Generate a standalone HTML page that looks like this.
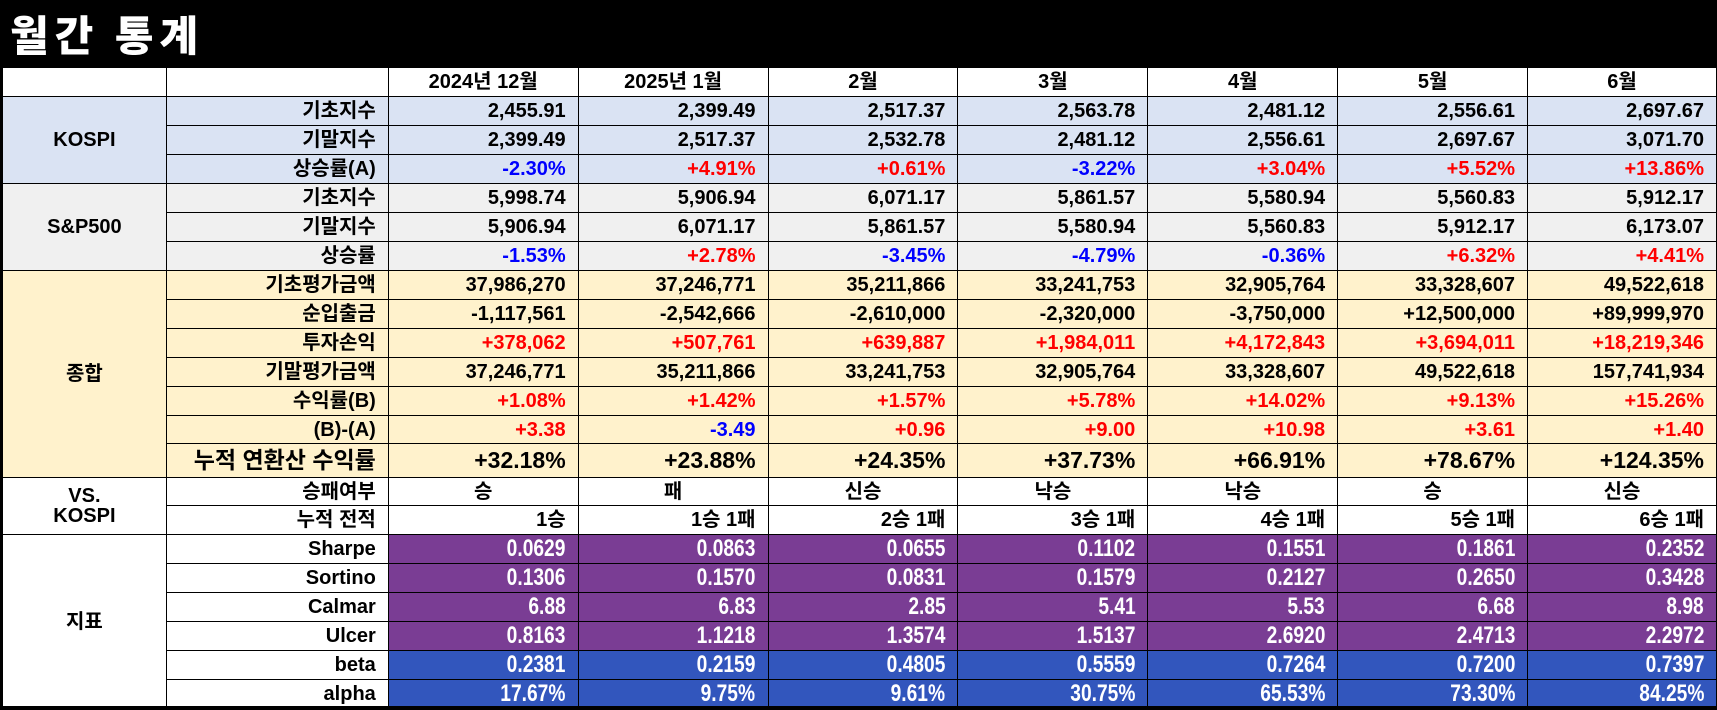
<!DOCTYPE html>
<html><head><meta charset="utf-8">
<style>
html,body{margin:0;padding:0;background:#fff;width:1717px;height:710px;overflow:hidden}
body{font-family:"Liberation Sans","Noto Sans CJK KR",sans-serif;}
#title{position:absolute;left:0;top:0;width:1717px;height:67px;background:#000;color:#fff;font-family:"Noto Sans CJK KR",sans-serif;font-weight:900;font-size:42px;line-height:67px;padding-left:10px;box-sizing:border-box;letter-spacing:6px}
table{position:absolute;left:2px;top:67px;border-collapse:collapse;table-layout:fixed;font-family:"Liberation Sans","Noto Sans CJK KR",sans-serif;font-weight:bold;font-size:20px}
td{border:1px solid #000;padding:0 12px 0 4px;white-space:nowrap;overflow:hidden;text-align:right;line-height:1}
td.c{text-align:center;padding:0}
td.lab{padding-right:12px}
.k{background:#dae3f3}.s{background:#f0f0f0}.t{background:#fff2cc}
.p{background:#7a3d94;color:#fff}.b{background:#3256bd;color:#fff}
.m span{display:inline-block;transform:scaleX(0.8);transform-origin:right center;font-size:24px;font-weight:bold}
.red{color:#ff0000}.blue{color:#0000ff}
.big{font-size:23px}
#bottom{position:absolute;left:0;top:706px;width:1717px;height:4px;background:#000}
#lb{position:absolute;left:0;top:67px;width:2px;height:643px;background:#000}
</style></head><body>
<div id="title">월간 통계</div>
<div id="lb"></div>
<table id="tbl">
<colgroup><col style="width:164px"><col style="width:222px"><col style="width:190px"><col style="width:190px"><col style="width:190px"><col style="width:190px"><col style="width:190px"><col style="width:190px"><col style="width:189px"></colgroup>
<tbody id="tb"></tbody></table>
<div id="bottom"></div>
<script>
const months=["2024년 12월","2025년 1월","2월","3월","4월","5월","6월"];
const kospiStart=["2,455.91","2,399.49","2,517.37","2,563.78","2,481.12","2,556.61","2,697.67"];
const kospiEnd=["2,399.49","2,517.37","2,532.78","2,481.12","2,556.61","2,697.67","3,071.70"];
const kospiRet=["-2.30%","+4.91%","+0.61%","-3.22%","+3.04%","+5.52%","+13.86%"];
const spStart=["5,998.74","5,906.94","6,071.17","5,861.57","5,580.94","5,560.83","5,912.17"];
const spEnd=["5,906.94","6,071.17","5,861.57","5,580.94","5,560.83","5,912.17","6,173.07"];
const spRet=["-1.53%","+2.78%","-3.45%","-4.79%","-0.36%","+6.32%","+4.41%"];
const startVal=["37,986,270","37,246,771","35,211,866","33,241,753","32,905,764","33,328,607","49,522,618"];
const netFlow=["-1,117,561","-2,542,666","-2,610,000","-2,320,000","-3,750,000","+12,500,000","+89,999,970"];
const pnl=["+378,062","+507,761","+639,887","+1,984,011","+4,172,843","+3,694,011","+18,219,346"];
const endVal=["37,246,771","35,211,866","33,241,753","32,905,764","33,328,607","49,522,618","157,741,934"];
const retB=["+1.08%","+1.42%","+1.57%","+5.78%","+14.02%","+9.13%","+15.26%"];
const diffBA=["+3.38","-3.49","+0.96","+9.00","+10.98","+3.61","+1.40"];
const cumAnn=["+32.18%","+23.88%","+24.35%","+37.73%","+66.91%","+78.67%","+124.35%"];
const winLose=["승","패","신승","낙승","낙승","승","신승"];
const record=["1승","1승 1패","2승 1패","3승 1패","4승 1패","5승 1패","6승 1패"];
const sharpe=["0.0629","0.0863","0.0655","0.1102","0.1551","0.1861","0.2352"];
const sortino=["0.1306","0.1570","0.0831","0.1579","0.2127","0.2650","0.3428"];
const calmar=["6.88","6.83","2.85","5.41","5.53","6.68","8.98"];
const ulcer=["0.8163","1.1218","1.3574","1.5137","2.6920","2.4713","2.2972"];
const beta=["0.2381","0.2159","0.4805","0.5559","0.7264","0.7200","0.7397"];
const alpha=["17.67%","9.75%","9.61%","30.75%","65.53%","73.30%","84.25%"];

const rows=[
 ["KOSPI",3,"k","기초지수",kospiStart,"k",0,29],
 [null,0,"","기말지수",kospiEnd,"k",0,29],
 [null,0,"","상승률(A)",kospiRet,"k",1,29],
 ["S&P500",3,"s","기초지수",spStart,"s",0,29],
 [null,0,"","기말지수",spEnd,"s",0,29],
 [null,0,"","상승률",spRet,"s",1,29],
 ["종합",7,"t","기초평가금액",startVal,"t",0,29],
 [null,0,"","순입출금",netFlow,"t",0,29],
 [null,0,"","투자손익",pnl,"t",1,29],
 [null,0,"","기말평가금액",endVal,"t",0,29],
 [null,0,"","수익률(B)",retB,"t",1,29],
 [null,0,"","(B)-(A)",diffBA,"t",1,28],
 [null,0,"","누적 연환산 수익률",cumAnn,"t",2,34],
 ["VS.<br>KOSPI",2,"","승패여부",winLose,"",3,28],
 [null,0,"","누적 전적",record,"",0,29],
 ["지표",6,"","Sharpe",sharpe,"p",4,29],
 [null,0,"","Sortino",sortino,"p",4,29],
 [null,0,"","Calmar",calmar,"p",4,29],
 [null,0,"","Ulcer",ulcer,"p",4,29],
 [null,0,"","beta",beta,"b",4,29],
 [null,0,"","alpha",alpha,"b",4,29]
];
const tb=document.getElementById('tb');
const hr=document.createElement('tr');
hr.style.height='29px';


for(let i=0;i<2;i++){
 const h0=document.createElement('td');h0.className='c';
 
 
 hr.appendChild(h0);
}
months.forEach(m=>{const td=document.createElement('td');td.className='c';td.textContent=m;


hr.appendChild(td);});
tb.appendChild(hr);
rows.forEach(r=>{
 const tr=document.createElement('tr');tr.style.height=r[7]+'px';
 
 
 if(r[0]!==null){const g=document.createElement('td');g.rowSpan=r[1];g.className='c '+r[2];g.innerHTML=r[0];
  
  
  tr.appendChild(g);}
 const l=document.createElement('td');l.className='lab '+(r[5]==='p'||r[5]==='b'?'':r[5]);l.textContent=r[3];
 if(r[6]===2)l.classList.add('big');
 
 
 tr.appendChild(l);
 r[4].forEach(v=>{const td=document.createElement('td');td.className=r[5];
  if(r[6]===1){td.classList.add(v[0]==='-'?'blue':'red');}
  if(r[6]===2)td.classList.add('big');
  if(r[6]===3)td.classList.add('c');
  if(r[6]===4){td.classList.add('m');const s=document.createElement('span');s.textContent=v;td.appendChild(s);}
  else td.textContent=v;
  
  
  tr.appendChild(td);});
 tb.appendChild(tr);
});
</script>
</body></html>
